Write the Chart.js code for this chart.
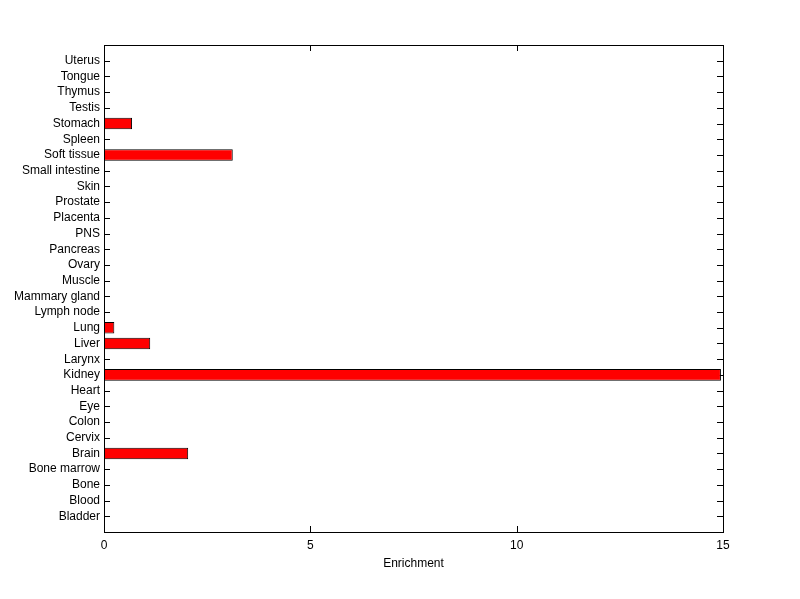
<!DOCTYPE html>
<html>
<head>
<meta charset="utf-8">
<script src="https://cdn.jsdelivr.net/npm/chart.js@4/dist/chart.umd.min.js"></script>
<style>
  html, body { margin: 0; padding: 0; background: #fff; }
  #wrap { width: 800px; height: 599px; }
</style>
</head>
<body>
<div id="wrap"><canvas id="enrichChart" width="800" height="599"></canvas></div>
<script>
// tissues, bottom to top as in the figure
const tissues = ['Bladder', 'Blood', 'Bone', 'Bone marrow', 'Brain', 'Cervix', 'Colon', 'Eye',
    'Heart', 'Kidney', 'Larynx', 'Liver', 'Lung', 'Lymph node', 'Mammary gland', 'Muscle',
    'Ovary', 'Pancreas', 'PNS', 'Placenta', 'Prostate', 'Skin', 'Small intestine',
    'Soft tissue', 'Spleen', 'Stomach', 'Testis', 'Thymus', 'Tongue', 'Uterus'];
const enrichment = [0, 0, 0, 0, 2.04, 0, 0, 0,
    0, 14.95, 0, 1.12, 0.25, 0, 0, 0,
    0, 0, 0, 0, 0, 0, 0,
    3.12, 0, 0.68, 0, 0, 0, 0];
const xTicks = [0, 5, 10, 15];

// empty slot at each end so the labels sit one step in from the frame
const labels = [''].concat(tissues, ['']);
const values = [null].concat(enrichment, [null]);

// MATLAB-style frame with inward tick marks (ticks under the bars, frame on top)
const frameTicks = {
    id: 'frameTicks',
    beforeDatasetsDraw(chart) {
        const ctx = chart.ctx;
        const a = chart.chartArea;
        const len = 6;
        ctx.save();
        ctx.strokeStyle = '#000';
        ctx.lineWidth = 1;
        ctx.beginPath();
        const ys = chart.scales.y;
        ys.ticks.forEach((t, i) => {
            if (labels[i] === '') return;
            const py = Math.round(ys.getPixelForTick(i)) + 0.5;
            ctx.moveTo(a.left, py); ctx.lineTo(a.left + len, py);
            ctx.moveTo(a.right - len, py); ctx.lineTo(a.right, py);
        });
        const xs = chart.scales.x;
        xs.ticks.forEach((t, i) => {
            const px = Math.round(xs.getPixelForTick(i)) + 0.5;
            ctx.moveTo(px, a.bottom); ctx.lineTo(px, a.bottom - len);
            ctx.moveTo(px, a.top); ctx.lineTo(px, a.top + len);
        });
        ctx.stroke();
        ctx.restore();
    },
    afterDraw(chart) {
        const ctx = chart.ctx;
        const a = chart.chartArea;
        ctx.save();
        ctx.strokeStyle = '#000';
        ctx.lineWidth = 1;
        ctx.strokeRect(Math.round(a.left) + 0.5, Math.round(a.top) + 0.5,
            Math.round(a.right - a.left), Math.round(a.bottom - a.top));
        ctx.restore();
    }
};

function renderEnrichmentChart() {
    const ctx = document.getElementById('enrichChart').getContext('2d');
    new Chart(ctx, {
        type: 'bar',
        data: {
            labels: labels,
            datasets: [{
                data: values,
                backgroundColor: '#ff0000',
                borderColor: '#000000',
                borderWidth: 1,
                borderSkipped: false,
                barPercentage: 0.74,
                categoryPercentage: 1
            }]
        },
        options: {
            indexAxis: 'y',
            responsive: false,
            animation: false,
            layout: { padding: { top: 45, right: 77, bottom: 0, left: 0 } },
            plugins: {
                legend: { display: false },
                tooltip: { enabled: false }
            },
            scales: {
                y: {
                    reverse: true,
                    offset: false,
                    grid: { display: false, drawTicks: false },
                    border: { display: false },
                    afterFit: (scale) => { scale.width = 104; },
                    ticks: {
                        autoSkip: false,
                        padding: 4,
                        color: '#000',
                        font: { family: 'Liberation Sans', size: 12 }
                    }
                },
                x: {
                    min: 0,
                    max: 15,
                    grid: { display: false, drawTicks: false },
                    border: { display: false },
                    afterBuildTicks: (scale) => { scale.ticks = xTicks.map(v => ({ value: v })); },
                    afterFit: (scale) => { scale.height = 67; },
                    ticks: {
                        padding: 6,
                        color: '#000',
                        font: { family: 'Liberation Sans', size: 12 }
                    },
                    title: {
                        display: true,
                        text: 'Enrichment',
                        color: '#000',
                        padding: { top: 0, bottom: 28 },
                        font: { family: 'Liberation Sans', size: 12 }
                    }
                }
            }
        },
        plugins: [frameTicks]
    });
}

document.addEventListener('DOMContentLoaded', () => {
    renderEnrichmentChart();
});
</script>
</body>
</html>
